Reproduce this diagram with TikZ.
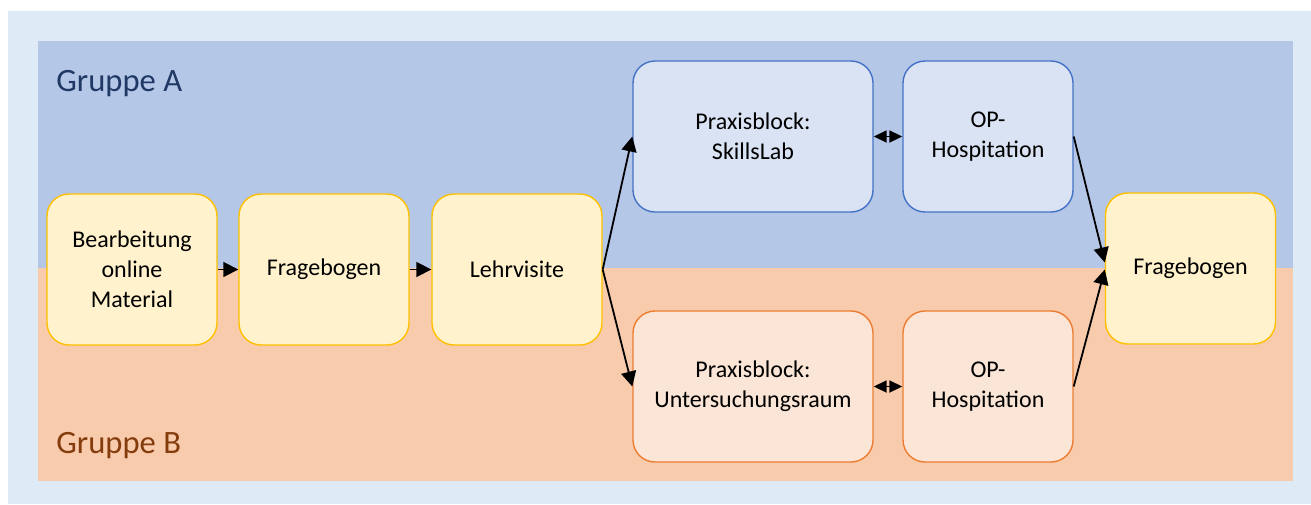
\documentclass[tikz,border=0pt]{standalone}
\usepackage{fontspec}
\setmainfont{Carlito}
\usetikzlibrary{arrows.meta}
\definecolor{outerbg}{HTML}{DEEBF7}
\definecolor{panelA}{HTML}{B4C7E7}
\definecolor{panelB}{HTML}{F8CBAD}
\definecolor{yfill}{HTML}{FFF2CC}
\definecolor{yline}{HTML}{FFC000}
\definecolor{bfill}{HTML}{DAE3F3}
\definecolor{bline}{HTML}{4472C4}
\definecolor{ofill}{HTML}{FBE5D6}
\definecolor{oline}{HTML}{ED7D31}
\definecolor{grpAtext}{HTML}{203864}
\definecolor{grpBtext}{HTML}{843C0C}

\begin{document}
\begin{tikzpicture}[x=0.5pt,y=-0.5pt,>={Triangle[length=7.5pt,width=7.5pt]},
  font=\fontsize{12}{15}\selectfont]
 \tikzstyle{stepbox} = [draw=yline,fill=yfill,line width=0.7pt,rounded corners=11pt,
   minimum width=85pt,minimum height=75.5pt,align=center,inner sep=2pt]
 \tikzstyle{praxisA} = [stepbox,draw=bline,fill=bfill,minimum width=120pt]
 \tikzstyle{praxisB} = [stepbox,draw=oline,fill=ofill,minimum width=120pt]
 \tikzstyle{hospA} = [stepbox,draw=bline,fill=bfill]
 \tikzstyle{hospB} = [stepbox,draw=oline,fill=ofill]
 \tikzstyle{flow} = [->,line width=0.9pt]
 \tikzstyle{swap} = [{Triangle[length=6.5pt,width=6pt]}-{Triangle[length=6.5pt,width=6pt]},line width=0.9pt]
 \tikzstyle{grplabel} = [anchor=base west,inner sep=0pt,font=\fontsize{16.3}{19.5}\selectfont]

 \useasboundingbox (0,0) rectangle (1311,504);

% Background and group panels
 \fill[outerbg] (8,11) rectangle (1311,504);
 \fill[panelA] (38,41) rectangle (1293,268);
 \fill[panelB] (38,268) rectangle (1293,481);
 \node[grplabel,grpAtext] (grpA) at (56,91) {Gruppe A};
 \node[grplabel,grpBtext] (grpB) at (56,453) {Gruppe B};

% Common steps
 \node[stepbox] (online) at (132,269.5) {Bearbeitung\\online\\Material};
 \node[stepbox] (frage1) at (324,269.5) {Fragebogen};
 \node[stepbox] (visite) at (517,269.5) {Lehrvisite};

% Group A
 \node[praxisA] (skills) at (753,136.5) {Praxisblock:\\SkillsLab};
 \node[hospA] (hospA) at (988,136.5) {OP-\\Hospitation};

% Group B
 \node[praxisB] (unters) at (753,386.5) {Praxisblock:\\Untersuchungsraum};
 \node[hospB] (hospB) at (988,386.5) {OP-\\Hospitation};

% Final step
 \node[stepbox] (frage2) at (1190.5,268.5) {Fragebogen};

% Arrows
 \draw[flow] (online) -- (frage1);
 \draw[flow] (frage1) -- (visite);
 \draw[flow] (visite.east) -- (skills.west);
 \draw[flow] (visite.east) -- (unters.west);
 \draw[swap] (skills) -- (hospA);
 \draw[swap] (unters) -- (hospB);
 \draw[flow] (hospA.east) -- ([yshift=3pt]frage2.west);
 \draw[flow] (hospB.east) -- ([yshift=-0.5pt]frage2.west);
\end{tikzpicture}
\end{document}
